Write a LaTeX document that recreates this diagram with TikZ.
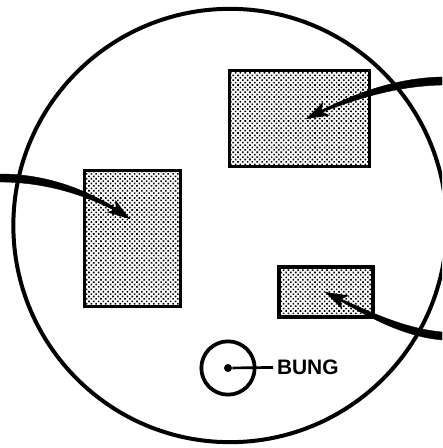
\documentclass[tikz,border=0pt]{standalone}
\usepackage{fontspec}
\setsansfont{Liberation Sans}
\usetikzlibrary{arrows.meta,patterns.meta}
\begin{document}
\begin{tikzpicture}[x=0.75pt, y=-0.75pt,
    tank/.style={draw, line width=2.8pt, inner sep=0pt, pattern={Dots[radius=0.85pt, distance=2.55pt, angle=45]}},
    lead/.style={line width=1.6pt, -{Stealth[length=17pt, width=11pt, inset=4pt]}},
    taper/.style={fill, draw, line width=0.3pt}]
    \clip (0,0) rectangle (442,448);
    \node[circle, draw, line width=3pt, minimum size=325pt, inner sep=0pt] (drum) at (230,225.5) {};
    \node[tank, minimum width=105pt, minimum height=72pt] (a) at (299.5,118.5) {};
    \node[tank, minimum width=72pt, minimum height=102pt] (b) at (132.5,238.5) {};
    \node[tank, minimum width=71pt, minimum height=37pt] (c) at (326,292) {};
    \coordinate (aend) at (442,81);
    \coordinate (bend) at (0,178);
    \coordinate (cend) at (442,336);
    \coordinate (atip) at (306,119);
    \coordinate (btip) at (130,219);
    \coordinate (ctip) at (325,292);
    \draw[lead] (aend) .. controls (395,82) and (350,97) .. (atip);
    \fill[taper] (442,77) .. controls (395,78) and (350,94) .. (atip) .. controls (350,100) and (395,86) .. (442,85) -- cycle;
    \draw[lead] (bend) .. controls (50,178) and (95,195) .. (btip);
    \fill[taper] (0,174) .. controls (50,174) and (95,192) .. (btip) .. controls (95,198) and (50,182) .. (0,182) -- cycle;
    \draw[lead] (cend) .. controls (400,332) and (365,312) .. (ctip);
    \fill[taper] (442,332) .. controls (400,328) and (365,309) .. (ctip) .. controls (365,315) and (400,336) .. (442,340) -- cycle;
    \node[circle, draw, line width=2.8pt, minimum size=40pt, inner sep=0pt] (bung) at (228,368) {};
    \node[circle, fill, minimum size=6pt, inner sep=0pt] (bungdot) at (bung.center) {};
    \node[anchor=west, inner sep=0pt, outer sep=3pt, font=\sffamily\bfseries\fontsize{15.7pt}{16pt}\selectfont] (bunglabel) at (273,367) {BUNG};
    \draw[line width=2pt] (bungdot) -- (bunglabel);
  \end{tikzpicture}
\end{document}
